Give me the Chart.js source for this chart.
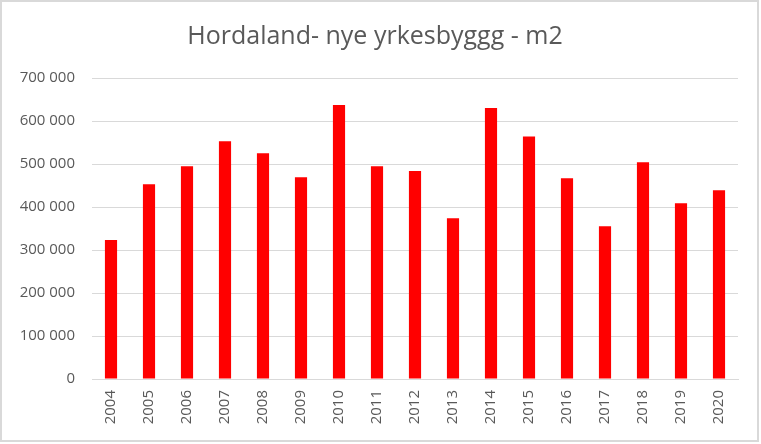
<!DOCTYPE html>
<html>
<head>
<meta charset="utf-8">
<script src="https://cdn.jsdelivr.net/npm/chart.js"></script>
<style>
  html, body { margin: 0; padding: 0; background: #fff; }
  #wrap { width: 761px; height: 444px; position: relative; }
</style>
</head>
<body>
<div id="wrap"><canvas id="chart" width="761" height="444"></canvas></div>
<script>
// Hordaland - nye yrkesbygg (m2), lest av grafen
const aar = ['2004', '2005', '2006', '2007', '2008', '2009', '2010', '2011', '2012',
             '2013', '2014', '2015', '2016', '2017', '2018', '2019', '2020'];
const areal = [323000, 453000, 495000, 553000, 525000, 469000, 637000, 495000, 484000,
               374000, 630000, 564000, 467000, 355000, 504000, 409000, 439000];
const tittel = 'Hordaland- nye yrkesbyggg - m2';

const tekstFarge = '#595959';
const gridFarge = '#d9d9d9';
const font = "'Open Sans', 'Noto Sans', sans-serif";

// ramme rundt hele diagrammet
const ramme = {
    id: 'ramme',
    afterDraw(chart) {
        const ctx = chart.ctx;
        ctx.save();
        ctx.strokeStyle = gridFarge;
        ctx.lineWidth = 2;
        ctx.strokeRect(1, 1, 757, 440);
        ctx.restore();
    }
};

const formatTall = v => String(v).replace(/\B(?=(\d{3})+(?!\d))/g, ' ');

new Chart(document.getElementById('chart'), {
    type: 'bar',
    data: {
        labels: aar,
        datasets: [{
            data: areal,
            backgroundColor: '#ff0000',
            barPercentage: 0.32,
            categoryPercentage: 1
        }]
    },
    options: {
        responsive: false,
        animation: false,
        layout: { padding: { left: 12, right: 23, top: 0, bottom: 0 } },
        plugins: {
            legend: { display: false },
            tooltip: { enabled: false },
            title: {
                display: true,
                text: tittel,
                color: tekstFarge,
                font: { family: font, size: 25, weight: 'normal' },
                padding: { top: 22, bottom: 26 }
            }
        },
        scales: {
            x: {
                grid: { display: false, drawTicks: false },
                border: { display: true, color: gridFarge, width: 1 },
                ticks: {
                    color: tekstFarge,
                    font: { family: font, size: 15 },
                    minRotation: 90,
                    maxRotation: 90,
                    padding: 11
                },
                afterFit(scale) { scale.height = 444 - 379; }
            },
            y: {
                min: 0,
                max: 700000,
                grid: { color: gridFarge, lineWidth: 1, drawTicks: false },
                border: { display: false },
                ticks: {
                    stepSize: 100000,
                    color: tekstFarge,
                    font: { family: font, size: 15 },
                    padding: 17,
                    callback: v => formatTall(v)
                },
                afterFit(scale) { scale.width = 80; }
            }
        }
    },
    plugins: [ramme]
});
</script>
</body>
</html>
